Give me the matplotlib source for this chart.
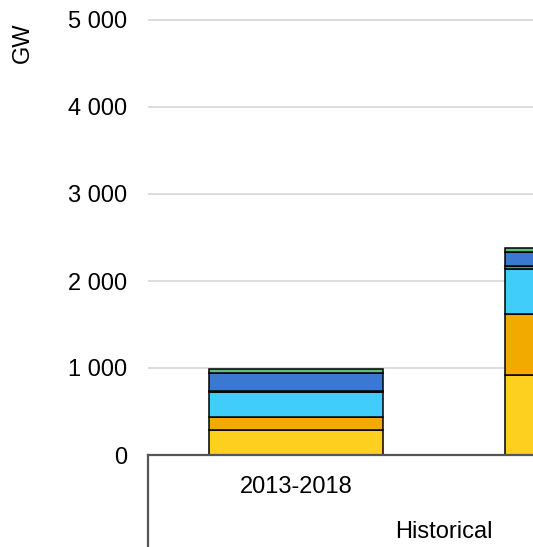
import matplotlib.pyplot as plt
import numpy as np

plt.rcParams['font.family'] = ['Liberation Sans', 'DejaVu Sans']

# data (GW), two stacked columns, the second one is cut off at the right edge
periods = ['2013-2018', '2019-2024']
group_label = 'Historical'
layer_colors = ['#FDD020', '#F2A900', '#41CDFA', '#2FA890', '#3A78D2', '#5CC07A']
yellow = [285, 920]
orange = [150, 700]
light_blue = [290, 520]
teal = [8, 35]
blue = [210, 160]
green = [50, 45]
layers = [yellow, orange, light_blue, teal, blue, green]

W, H = 533, 547
fig = plt.figure(figsize=(W / 100, H / 100), dpi=100)

# axes from x=148px to past the right edge, y from 455px (0) up
ax_left, ax_bottom = 148 / W, (H - 455) / H
ax_top = (H - 20 + 0.087 * 100) / H
ax = fig.add_axes([ax_left, ax_bottom, 1 - ax_left, ax_top - ax_bottom])

x = np.arange(len(periods))
bottom = np.zeros(len(periods))
for vals, col in zip(layers, layer_colors):
    ax.bar(x, vals, width=0.588, bottom=bottom, color=col,
           edgecolor='black', linewidth=1.1, zorder=3)
    bottom += np.array(vals)

ax.set_xlim(-0.5, 0.8)
ax.set_ylim(0, 5100)
ax.set_yticks(range(0, 5001, 1000))
ax.set_yticklabels([f'{v:,}'.replace(',', ' ') for v in range(0, 5001, 1000)],
                   fontsize=17)
ax.tick_params(axis='y', length=0, pad=15)
ax.tick_params(axis='x', length=0, labelbottom=False)
ax.grid(axis='y', color='#d9d9d9', linewidth=1.3, zorder=0)
for s in ['top', 'right', 'left']:
    ax.spines[s].set_visible(False)
ax.spines['bottom'].set_color('#555555')
ax.spines['bottom'].set_linewidth(1.6)
ax.spines['bottom'].set_zorder(4)

# category box below axis
fig.add_artist(plt.Line2D([ax_left, ax_left], [0, ax_bottom], color='#555555',
                          linewidth=1.6, transform=fig.transFigure))
fig.text(296 / W, 1 - 487 / H, periods[0], ha='center', va='center', fontsize=17)
fig.text(444 / W, 1 - 532 / H, group_label, ha='center', va='center', fontsize=17)

fig.text(23 / W, 1 - 43 / H, 'GW', rotation=90, ha='center', va='center',
         fontsize=17)

fig.savefig('out.png', dpi=100)
